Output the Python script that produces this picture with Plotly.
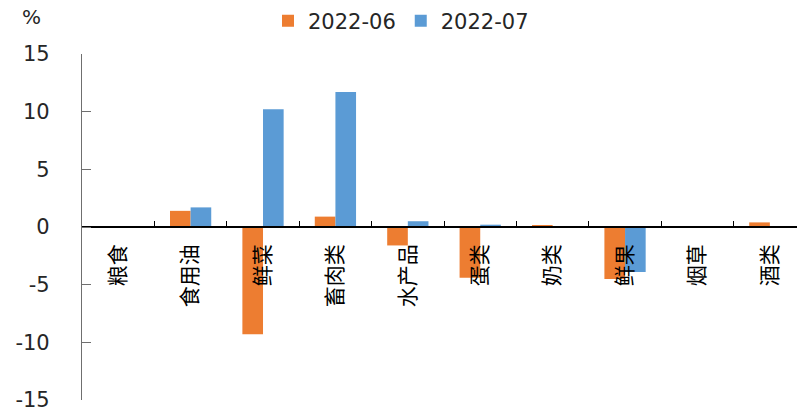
import plotly.graph_objects as go

# Month-on-month price change by food category (%)
categories = ["粮食", "食用油", "鲜菜", "畜肉类", "水产品", "蛋类", "奶类", "鲜果", "烟草", "酒类"]
june_values = [0.0, 1.4, -9.3, 0.9, -1.6, -4.4, 0.1, -4.5, 0.0, 0.4]
july_values = [0.0, 1.7, 10.2, 11.7, 0.5, 0.2, 0.0, -3.9, 0.0, 0.0]
series_names = ["2022-06", "2022-07"]
y_ticks = [-15, -10, -5, 0, 5, 10, 15]

ORANGE = "#ED7D31"
BLUE = "#5B9BD5"
LATIN = "DejaVu Sans, Arial, sans-serif"
CJK = "Noto Sans CJK SC, sans-serif"

W, H = 803, 412
M_L, M_R, M_T, M_B = 82, 6, 54, 12
plot_w = W - M_L - M_R
plot_h = H - M_T - M_B

fig = go.Figure()
fig.add_trace(go.Bar(x=categories, y=june_values, name=series_names[0],
                     marker=dict(color=ORANGE, line=dict(width=0))))
fig.add_trace(go.Bar(x=categories, y=july_values, name=series_names[1],
                     marker=dict(color=BLUE, line=dict(width=0))))

fig.update_layout(
    width=W, height=H,
    margin=dict(l=M_L, r=M_R, t=M_T, b=M_B, autoexpand=False),
    paper_bgcolor="white", plot_bgcolor="white",
    barmode="group", bargap=0.43, bargroupgap=0,
    showlegend=True,
    legend=dict(orientation="h", x=268 / W, y=1 - 21 / H,
                xanchor="left", yanchor="middle",
                xref="container", yref="container",
                font=dict(family=LATIN, size=21, color="#262626"),
                itemwidth=30, bgcolor="rgba(0,0,0,0)"),
    annotations=[dict(text="%", xref="paper", yref="paper",
                      x=(32 - M_L) / plot_w, y=(H - M_B - 17) / plot_h,
                      xanchor="center", yanchor="middle", showarrow=False,
                      font=dict(family=LATIN, size=20, color="#262626"))],
)

# Category axis sits on the zero line, labels read bottom-to-top;
# the last category runs past the right edge of the frame
fig.update_xaxes(
    type="category", range=[-0.5, 9.375],
    anchor="free", position=0.5,
    showline=True, linecolor="black", linewidth=1.5,
    ticks="inside", tickson="boundaries", ticklen=5, tickcolor="black",
    tickangle=-90, ticklabelstandoff=8,
    tickfont=dict(family=CJK, size=21, color="black"),
    showgrid=False, zeroline=False,
)

fig.update_yaxes(
    range=[-15, 15], tickvals=y_ticks, ticktext=[str(v) for v in y_ticks],
    showline=True, linecolor="#6f6f6f", linewidth=1.2,
    ticks="inside", ticklen=9, tickcolor="#6f6f6f",
    ticklabelstandoff=27, ticklabeloverflow="allow",
    tickfont=dict(family=LATIN, size=21, color="#262626"),
    showgrid=False, zeroline=False,
)

fig.write_html("out.html")
